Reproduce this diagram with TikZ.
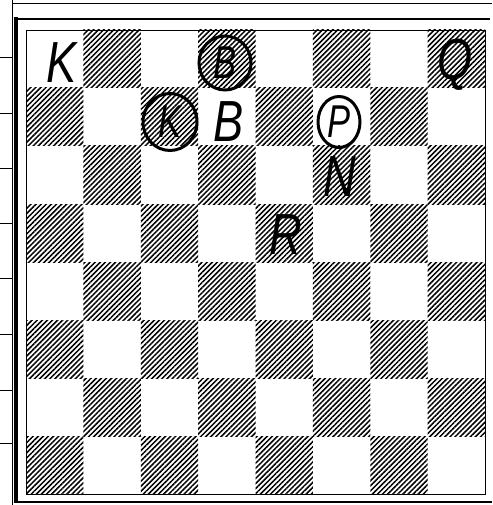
\documentclass[tikz,border=0pt]{standalone}
\usepackage{fontspec}
\setmainfont{Liberation Sans}
\usetikzlibrary{patterns.meta,shapes.geometric}
\newcommand{\pcbig}[1]{\scalebox{0.78}[1]{\fontsize{58}{58}\selectfont\itshape #1}}
\newcommand{\pcsmall}[1]{\scalebox{0.75}[1]{\fontsize{46}{46}\selectfont\itshape #1}}
\begin{document}
\begin{tikzpicture}[x=1pt,y=-1pt,
  dark/.style={pattern={Lines[angle=45,distance=3.6pt,line width=1.5pt]},pattern color=black},
  piece/.style={inner sep=0pt,text=black},
  ring/.style={draw,ellipse,line width=3pt,inner sep=0pt},
  thin/.style={line width=0.8pt},
  frame/.style={line width=2.6pt}]
\useasboundingbox (0,0) rectangle (492,505);
% outer scan frame
\draw[thin] (13,3) -- (492,3);
\draw[thin] (12,0) -- (12,505);
\foreach \t in {57,113,168,223,278,334,390,443}
  \draw[thin] (0,\t) -- (12,\t);
\draw[frame] (15,19) -- (490,19);
\draw[line width=3.2pt] (16,17) -- (16,503);
\draw[frame] (15,502) -- (492,502);
% board squares
\foreach \r in {0,...,7}{
  \foreach \c in {0,...,7}{
    \pgfmathtruncatemacro{\parity}{mod(\r+\c,2)}
    \ifnum\parity=1
      \path[dark] (26+57.375*\c,30+58*\r) rectangle ++(57.375,58);
    \fi
  }
}
\draw[thin] (26,30) rectangle (485,494);
% pieces
\node[piece] (wK) at (62,63) {\pcbig{K}};
\node[piece] (wQ) at (455,65) {\pcbig{Q}};
\node[ring,minimum width=52pt,minimum height=54pt] (cB) at (225,63) {\pcsmall{B}};
\node[ring,minimum width=54pt,minimum height=57pt] (cK) at (170,122) {\pcsmall{K}};
\node[piece] (wB) at (229,122) {\pcbig{B}};
\node[ring,minimum width=42pt,minimum height=51pt] (cP) at (339,122) {\pcsmall{P}};
\node[piece] (wN) at (340,177) {\pcbig{N}};
\node[piece] (wR) at (286,235) {\pcbig{R}};
\end{tikzpicture}
\end{document}
